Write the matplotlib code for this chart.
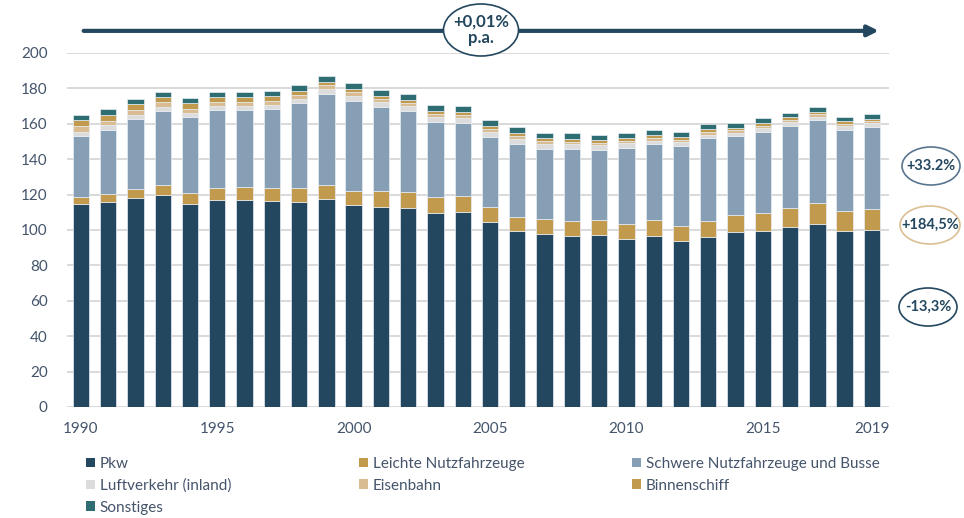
import matplotlib
matplotlib.use("Agg")
import matplotlib.pyplot as plt
from matplotlib.patches import Ellipse, Patch
import numpy as np

plt.rcParams['font.family'] = ['Lato', 'DejaVu Sans']

years = list(range(1990, 2020))
pkw = [114.7, 115.8, 117.9, 119.8, 114.7, 117.1, 117.1, 116.6, 116.0, 117.7,
       113.9, 113.2, 112.6, 109.4, 110.4, 104.5, 99.4, 97.7, 96.6, 97.2,
       94.9, 96.8, 93.6, 96.2, 99.1, 99.6, 101.5, 103.6, 99.4, 100.0]
lnf = [4.1, 4.5, 5.1, 5.4, 6.0, 6.8, 7.0, 6.9, 7.7, 7.9,
       8.3, 8.6, 8.9, 9.1, 8.6, 8.7, 8.1, 8.3, 8.7, 8.6,
       8.7, 8.7, 8.5, 9.1, 9.6, 9.8, 10.7, 11.5, 11.5, 11.9]
snf = [34.3, 36.2, 39.7, 42.0, 43.0, 43.9, 43.5, 45.0, 48.3, 51.4,
       50.9, 47.7, 45.9, 42.3, 41.6, 39.3, 41.3, 39.9, 40.5, 39.4,
       42.9, 43.1, 45.4, 46.5, 44.4, 46.2, 46.7, 46.9, 45.8, 46.3]
luft = [2.5, 2.6, 2.3, 2.5, 2.4, 2.3, 2.5, 2.3, 2.2, 2.9,
        2.8, 2.6, 2.7, 2.9, 2.5, 2.9, 2.8, 2.9, 2.8, 2.6,
        2.5, 1.9, 2.0, 1.9, 1.9, 2.0, 2.1, 2.0, 2.1, 2.1]
eisenbahn = [3.3, 2.5, 2.8, 2.6, 2.3, 2.2, 2.4, 2.1, 2.3, 1.8,
             2.1, 1.9, 1.5, 1.6, 2.0, 1.7, 1.5, 1.5, 1.3, 1.5,
             1.3, 1.3, 1.3, 1.5, 1.3, 1.4, 1.3, 1.3, 1.3, 1.3]
binnenschiff = [3.1, 3.4, 3.2, 3.0, 3.2, 3.0, 2.6, 2.8, 2.2, 1.9,
                1.8, 1.9, 1.8, 1.9, 1.8, 1.7, 1.7, 1.5, 1.5, 1.5,
                1.5, 1.7, 1.6, 1.7, 1.5, 1.5, 1.5, 1.6, 1.3, 1.3]
sonstiges = [3.0, 3.2, 2.8, 2.9, 2.9, 2.7, 2.9, 2.8, 3.4, 3.6,
             3.3, 3.2, 3.6, 3.4, 3.2, 3.2, 3.2, 3.0, 3.2, 3.1,
             2.8, 3.0, 2.8, 2.8, 2.7, 2.6, 2.5, 2.8, 2.6, 2.6]

labels = ["Pkw", "Leichte Nutzfahrzeuge", "Schwere Nutzfahrzeuge und Busse",
          "Luftverkehr (inland)", "Eisenbahn", "Binnenschiff", "Sonstiges"]
colors = ["#23475f", "#c19a4e", "#879fb5", "#dcdcdc", "#d9bc91", "#c19a4e", "#2e6e73"]
series = [pkw, lnf, snf, luft, eisenbahn, binnenschiff, sonstiges]

xticks = [1990, 1995, 2000, 2005, 2010, 2015, 2019]
yticks = list(range(0, 201, 20))

navy = "#23475f"
textc = "#44546a"

fig = plt.figure(figsize=(9.64, 5.18), dpi=100)
ax = fig.add_axes([0.0695, 0.2143, 0.8525, 0.6834])

bottom = np.zeros(len(years))
for vals, col in zip(series, colors):
    ax.bar(years, vals, width=0.6, bottom=bottom, color=col,
           edgecolor="#e8eef3", linewidth=0.5, zorder=3)
    bottom += np.array(vals)

ax.set_xlim(1989.49, 2019.62)
ax.set_ylim(0, 200)
ax.set_yticks(yticks)
ax.set_xticks(xticks)
ax.grid(axis='y', color="#d9d9d9", linewidth=1.4, zorder=0)
for s in ax.spines.values():
    s.set_visible(False)
ax.tick_params(length=0, labelsize=11, colors=textc)
ax.tick_params(axis='x', pad=11)
ax.tick_params(axis='y', pad=14)

# top arrow
ax.annotate('', xy=(2019.25, 212.5), xytext=(1990.1, 212.5),
            arrowprops=dict(arrowstyle='-|>', lw=3, color=navy, mutation_scale=16,
                            shrinkA=0, shrinkB=0),
            annotation_clip=False, zorder=5)

def fig_ellipse(cx, cy, w, h, edge, text, fs):
    e = Ellipse((cx / 964, 1 - cy / 518), w / 964, h / 518, transform=fig.transFigure,
                facecolor="white", edgecolor=edge, linewidth=1.2, zorder=10)
    fig.add_artist(e)
    fig.text(cx / 964, 1 - cy / 518, text, ha='center', va='center', fontsize=fs,
             fontweight='bold', color=navy, zorder=11, linespacing=1.0)

fig_ellipse(481, 30, 75, 52, navy, "+0,01%\np.a.", 12)
fig_ellipse(931, 166, 58, 38, "#5a7590", "+33.2%", 10.5)
fig_ellipse(930, 225, 60, 38, "#dcbf93", "+184,5%", 10.5)
fig_ellipse(928, 307, 58, 38, navy, "-13,3%", 10.5)

handles = [Patch(facecolor=c, edgecolor='none') for c in colors]
columns = [[0, 3, 6], [1, 4], [2, 5]]
col_x = [86, 359, 632]
for idx, cx in zip(columns, col_x):
    leg = fig.legend([handles[i] for i in idx], [labels[i] for i in idx],
                     loc='upper left', bbox_to_anchor=(cx / 964, 1 - 457 / 518),
                     frameon=False, fontsize=11, handlelength=0.6, handleheight=0.6,
                     handletextpad=0.3, labelspacing=0.5,
                     borderaxespad=0, borderpad=0)
    for t in leg.get_texts():
        t.set_color(textc)

fig.savefig("out.png", dpi=100)
